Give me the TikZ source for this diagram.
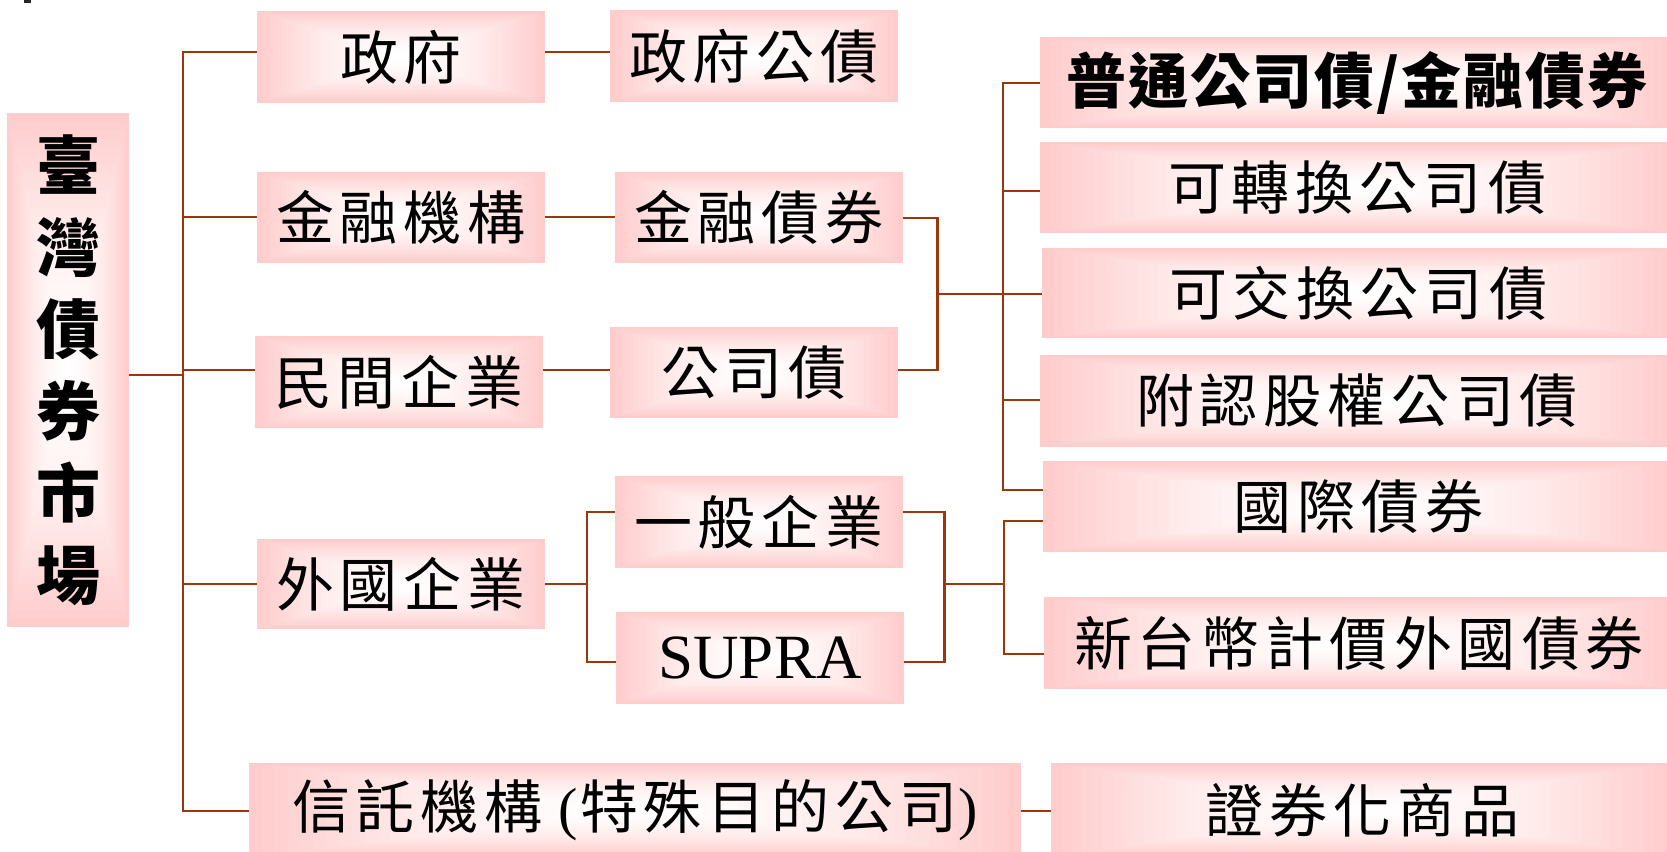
\documentclass[tikz,border=0pt]{standalone}
\usepackage{fontspec}
\setmainfont{Liberation Serif}
\newfontfamily\cjk{Noto Sans CJK TC}
\usetikzlibrary{calc}
\definecolor{lnc}{RGB}{155,55,10}
\definecolor{bpink}{RGB}{255,204,204}
\newlength\chgap
\setlength\chgap{6pt}
\makeatletter
\newcommand\spcd[1]{\def\spcd@first{x}\@tfor\spcd@c:=#1\do{\ifx\spcd@first\@empty\hspace{\chgap}\else\def\spcd@first{}\fi\spcd@c}}
\makeatother
\tikzset{
  box/.style={inner sep=0pt, draw=none,
    font=\cjk\fontsize{58}{62}\selectfont,
    path picture={
      \foreach \i in {0,...,29}{
        \pgfmathsetmacro\f{1-\i/30}
        \pgfmathtruncatemacro\c{round(100*(\f^1.6))}
        \fill[bpink!\c!white] ($(path picture bounding box.center)!\f!(path picture bounding box.south west)$) rectangle ($(path picture bounding box.center)!\f!(path picture bounding box.north east)$);
      }
    }},
  conn/.style={draw=lnc, line width=2.2pt, line join=miter}
}
\begin{document}
\begin{tikzpicture}[x=1pt,y=-1pt]
\useasboundingbox (0,0) rectangle (1667,851);
\clip (0,0) rectangle (1667,851);
\fill[black!85] (23.6,0) rectangle (31.4,3.5);
% root
\node[box, minimum width=122pt, minimum height=514pt, align=center,
      font=\cjk\bfseries\fontsize{64}{82}\selectfont] (root) at (68,370) {臺\\灣\\債\\券\\市\\場};
% column 1
\node[box, minimum width=288pt, minimum height=92pt] (gov) at (401,57) {\spcd{政府}};
\node[box, minimum width=288pt, minimum height=91pt] (fin) at (401,217.5) {\spcd{金融機構}};
\node[box, minimum width=288pt, minimum height=92pt] (priv) at (399,382) {\spcd{民間企業}};
\node[box, minimum width=288pt, minimum height=90pt] (forn) at (401,584) {\spcd{外國企業}};
\node[box, minimum width=772pt, minimum height=94pt] (trust) at (635,810) {\spcd{信託機構}\hspace{16pt}{\rmfamily(}\hspace{2pt}\spcd{特殊目的公司}{\rmfamily)}};
% column 2
\node[box, minimum width=288pt, minimum height=92pt] (govbond) at (754,56) {\spcd{政府公債}};
\node[box, minimum width=288pt, minimum height=91pt] (finbond) at (759,217.5) {\spcd{金融債券}};
\node[box, minimum width=288pt, minimum height=91pt] (corpbond) at (754,372.5) {\spcd{公司債}};
\node[box, minimum width=288pt, minimum height=92pt] (general) at (759,522) {\spcd{一般企業}};
\node[box, minimum width=288pt, minimum height=92pt, font=\rmfamily\fontsize{63}{66}\selectfont] (supra) at (760,658) {SUPRA};
% column 3
\node[box, minimum width=634pt, minimum height=91pt, font=\cjk\bfseries\fontsize{60}{62}\selectfont] (ordinary) at (1357,82.5) {\setlength\chgap{2pt}\spcd{普通公司債/金融債券}};
\node[box, minimum width=634pt, minimum height=91pt] (conv) at (1357,187.5) {\spcd{可轉換公司債}};
\node[box, minimum width=632pt, minimum height=90pt] (exch) at (1358,293) {\spcd{可交換公司債}};
\node[box, minimum width=634pt, minimum height=92pt] (warrant) at (1357,401) {\spcd{附認股權公司債}};
\node[box, minimum width=631pt, minimum height=91pt] (intl) at (1358.5,506.5) {\spcd{國際債券}};
\node[box, minimum width=630pt, minimum height=92pt] (ntd) at (1359,643) {\spcd{新台幣計價外國債券}};
\node[box, minimum width=623pt, minimum height=94pt] (sec) at (1362.5,810) {\spcd{證券化商品}};
% coordinates
\coordinate (tTop) at (183,52);
\coordinate (tRoot) at (183,375);
\coordinate (tFin) at (183,217);
\coordinate (tPriv) at (183,370);
\coordinate (tForn) at (183,584);
\coordinate (tBot) at (183,811);
\coordinate (fA) at (587,512);
\coordinate (fB) at (587,662);
\coordinate (bA) at (937.5,218);
\coordinate (bB) at (937.5,370);
\coordinate (bM) at (937.5,294);
\coordinate (s1) at (1003,83);
\coordinate (s2) at (1003,191);
\coordinate (s4) at (1003,400);
\coordinate (s5) at (1003,490);
\coordinate (gA) at (944.5,512);
\coordinate (gB) at (944.5,662);
\coordinate (gM) at (944.5,584);
\coordinate (u1) at (1004,521);
\coordinate (uM) at (1004,584);
\coordinate (u2) at (1004,654);
% connectors
\draw[conn] (tTop -| gov.west) -- (tTop) -- (tBot) -- (tBot -| trust.west);
\draw[conn] (root.east |- tRoot) -- (tRoot);
\draw[conn] (tFin) -- (tFin -| fin.west);
\draw[conn] (tPriv) -- (tPriv -| priv.west);
\draw[conn] (tForn) -- (tForn -| forn.west);
\draw[conn] (gov.east |- tTop) -- (govbond.west |- tTop);
\draw[conn] (fin.east |- tFin) -- (finbond.west |- tFin);
\draw[conn] (priv.east |- tPriv) -- (corpbond.west |- tPriv);
\draw[conn] (forn.east |- tForn) -- (fA |- tForn);
\draw[conn] (general.west |- fA) -- (fA) -- (fB) -- (supra.west |- fB);
\draw[conn] (finbond.east |- bA) -- (bA) -- (bB) -- (corpbond.east |- bB);
\draw[conn] (bM) -- (exch.west |- bM);
\draw[conn] (ordinary.west |- s1) -- (s1) -- (s5) -- (intl.west |- s5);
\draw[conn] (s2) -- (conv.west |- s2);
\draw[conn] (s4) -- (warrant.west |- s4);
\draw[conn] (general.east |- gA) -- (gA) -- (gB) -- (supra.east |- gB);
\draw[conn] (gM) -- (uM);
\draw[conn] (intl.west |- u1) -- (u1) -- (u2) -- (ntd.west |- u2);
\draw[conn] (trust.east |- tBot) -- (sec.west |- tBot);
\end{tikzpicture}
\end{document}
